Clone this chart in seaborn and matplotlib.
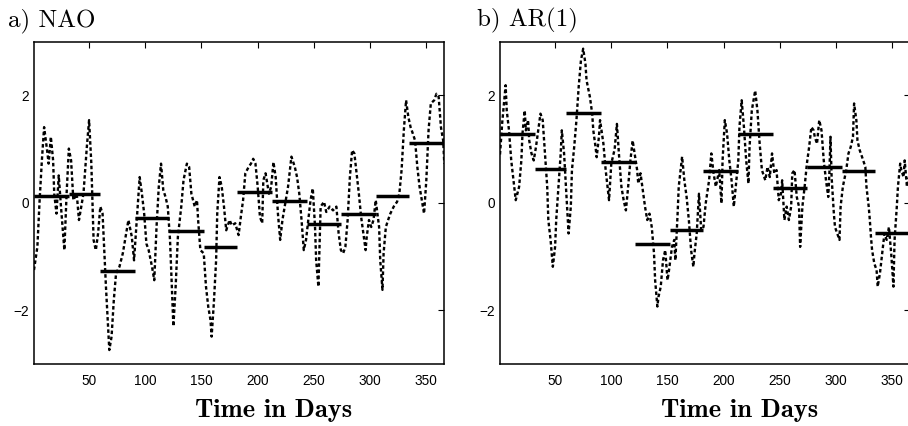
import matplotlib
matplotlib.use("Agg")
import matplotlib.pyplot as plt
import numpy as np
import pandas as pd
import seaborn as sns

# ---------------- data ----------------
nao_days = [1, 4, 6, 8, 10, 13, 14, 16, 18, 19, 21, 23, 25, 28, 30, 32, 34, 36, 39, 41,
            43, 45, 48, 50, 52, 54, 56, 58, 60, 62, 65, 68, 70, 72, 74, 77, 80, 83, 85, 88,
            90, 92, 95, 97, 99, 101, 103, 106, 108, 110, 112, 114, 116, 118, 120, 122, 125,
            127, 129, 132, 134, 137, 139, 141, 144, 146, 147, 149, 152, 154, 156, 158, 159,
            161, 163, 164, 166, 168, 170, 172, 175, 177, 180, 183, 185, 187, 189, 192, 194,
            196, 198, 200, 202, 204, 205, 207, 210, 212, 214, 216, 218, 220, 222, 224, 227,
            229, 230, 233, 235, 237, 239, 241, 243, 247, 249, 251, 252, 254, 255, 256, 259,
            261, 264, 267, 270, 272, 274, 276, 278, 280, 282, 284, 286, 288, 290, 292, 294,
            296, 297, 299, 301, 303, 305, 308, 309, 311, 312, 314, 316, 318, 321, 324, 326,
            328, 330, 332, 334, 336, 338, 340, 342, 344, 346, 348, 350, 352, 354, 357, 359,
            361, 363, 365, 366]
nao_vals = [-1.25, -0.82, 0.05, 0.79, 1.41, 0.92, 0.73, 1.23, 0.79, 0.17, -0.20, 0.51, -0.07,
            -0.88, 0.17, 1.01, 0.79, 0.05, 0.17, -0.32, -0.07, 0.17, 1.04, 1.54, 0.73, -0.69,
            -0.88, -0.57, -0.07, -0.20, -1.56, -2.74, -2.49, -1.81, -1.31, -1.19, -0.94, -0.57,
            -0.32, -0.63, -1.07, -0.45, 0.48, 0.17, -0.20, -0.76, -0.88, -1.19, -1.44, -0.45,
            0.30, 0.73, 0.24, 0.11, -0.07, -0.69, -2.30,
            -1.56, -0.63, -0.07, 0.42, 0.73, 0.67, 0.17, -0.07, 0.05, -0.32, -0.88, -0.94,
            -1.56, -1.93, -2.18, -2.49, -1.86, -1.07, -0.20, 0.48, 0.30, -0.07, -0.51, -0.32,
            -0.42, -0.38, -0.60, -0.26, 0.05, 0.55, 0.67, 0.73, 0.82, 0.73, 0.30, -0.26,
            -0.38, 0.42, 0.55, 0.17, 0.30, 0.76, 0.48, -0.20, -0.69, -0.32, -0.07, 0.30,
            0.67, 0.86, 0.67, 0.48, 0.17, -0.32, -0.88, -0.69, 0.05, 0.27, -0.45, -1.07,
            -1.56, -0.82, -0.07, 0.02, -0.17, -0.07, -0.14, -0.07, -0.57, -0.88, -0.94, -0.82,
            -0.32, 0.48, 0.98, 0.92, 0.55, 0.17, -0.26, -0.57, -0.88, -0.63, -0.32, -0.45,
            -0.32, 0.05, -0.45, -1.07, -1.62, -0.94, -0.45, -0.32, -0.20, -0.07, 0.02, 0.17,
            0.61, 1.35, 1.91, 1.60, 1.41, 1.29, 1.16, 0.67, 0.30, 0.05, -0.20, 0.42, 1.35,
            1.85, 1.91, 2.03, 1.97, 1.41, 1.16, 0.73]

ar_days = [1, 3, 6, 7, 9, 11, 13, 15, 18, 20, 21, 23, 24, 26, 27, 29, 31, 33, 35, 37, 39,
           41, 43, 44, 46, 47, 48, 50, 51, 53, 55, 56, 58, 60, 61, 62, 64, 65, 67, 69, 71,
           73, 75, 77, 78, 81, 83, 84, 86, 87, 89, 90, 93, 95, 98, 100, 103, 105, 107, 109,
           111, 113, 115, 117, 119, 123, 124, 126, 128, 130, 132, 134, 136, 138, 139, 141,
           142, 144, 146, 148, 150, 151, 154, 156, 157, 159, 160, 162, 163, 165, 167, 169,
           171, 173, 174, 176, 178, 180, 182, 184, 187, 189, 191, 193, 196, 198, 199, 201,
           203, 205, 207, 209, 211, 213, 214, 216, 218, 220, 222, 223, 225, 228, 230, 232,
           234, 237, 239, 241, 243, 245, 247, 249, 251, 252, 254, 256, 258, 260, 261, 263,
           265, 267, 268, 270, 272, 274, 276, 278, 280, 281, 283, 285, 287, 289, 291, 293,
           294, 295, 296, 298, 299, 301, 303, 304, 306, 309, 311, 313, 315, 316, 318, 319,
           321, 323, 326, 327, 329, 330, 331, 332, 334, 336, 337, 339, 341, 343, 345, 347,
           349, 351, 352, 354, 355, 357, 358, 360, 361, 363, 365, 366]
ar_vals = [0.90, 1.50, 2.19, 1.72, 1.35, 0.79, 0.42, 0.05, 0.30, 0.79, 1.29, 1.72, 1.35,
           1.54, 1.16, 0.92, 0.79, 1.04, 1.35, 1.66, 1.54, 0.92, 0.30, -0.32, -0.69, -0.94,
           -1.19, -0.82, -0.32, 0.30, 0.92, 1.35, 0.92, 0.17, -0.20, -0.57, -0.07, 0.61,
           1.04, 1.54, 2.16, 2.65, 2.87, 2.59, 2.28, 1.97, 1.66, 1.35, 1.04, 0.85, 1.23,
           1.54, 1.10, 0.61, 0.05, 0.73, 1.00, 1.47, 0.85, 0.30, 0.05, -0.14, 0.30, 0.79,
           1.16, 0.61, 0.36, 0.55, 0.24, -0.07, -0.32, -0.20, -0.45, -0.94, -1.44, -1.93,
           -1.75, -1.56, -1.07, -0.88, -1.44, -1.31, -0.82, -0.69, -1.07, -0.20, 0.30,
           0.67, 0.86, 0.42, 0.11, -0.32, -0.88, -1.19, -0.94, -0.57, 0.17, -0.51, -0.45,
           -0.01, 0.42, 0.92, 0.55, 0.30, 0.61, -0.01, 0.79, 1.54, 1.29, 0.79, 0.42, -0.07,
           0.36, 0.79, 1.41, 1.91, 1.41, 0.79, 0.36, 1.04, 1.72, 2.09, 1.72, 1.10, 0.61,
           0.42, 0.67, 0.48, 0.92, 0.55, 0.61, 0.05, 0.17, 0.42, -0.32, -0.07, -0.32, -0.07,
           0.55, 0.61, 0.11, -0.07, -0.82, -0.07, 0.30, 0.73, 1.04, 1.41, 1.35, 1.23, 1.10,
           1.54, 1.35, 0.79, 0.42, 0.11, 0.55, 1.23, 0.48, -0.20, -0.45, -0.57, -0.69,
           -0.07, 0.30, 0.61, 0.92, 1.04, 1.23, 1.85, 1.54, 1.16, 0.98, 0.86, 0.67, 0.30,
           -0.07, -0.32, -0.63, -0.88, -1.13, -1.25, -1.56, -1.31, -0.94, -0.57, -0.69,
           -0.45, -0.94, -1.56, -0.69, -0.07, 0.30, 0.73, 0.61, 0.48, 0.79, 0.30, 0.50, 0.70]

month_start = [1, 32, 60, 91, 121, 152, 182, 213, 244, 274, 305, 335]
month_end = [32, 60, 91, 121, 152, 182, 213, 244, 274, 305, 335, 366]
nao_means = [0.13, 0.16, -1.26, -0.29, -0.52, -0.82, 0.21, 0.04, -0.40, -0.20, 0.12, 1.12]
ar_means = [1.28, 0.63, 1.67, 0.76, -0.76, -0.50, 0.59, 1.29, 0.27, 0.66, 0.59, -0.57]

xtick_vals = [50, 100, 150, 200, 250, 300, 350]
ytick_vals = [-2, 0, 2]
panel_titles = ["a) NAO", "b) AR(1)"]
x_label = "Time in Days"

# ---------------- style ----------------
sns.set_theme(style="white")
plt.rcParams["font.family"] = ["Liberation Sans", "DejaVu Sans"]
plt.rcParams["axes.edgecolor"] = "black"
plt.rcParams["axes.linewidth"] = 1.1

W, H = 908, 426
fig = plt.figure(figsize=(W / 100, H / 100), dpi=100)
ax_w, ax_h = 410.3, 322.3
ax1 = fig.add_axes([34 / W, 62 / H, ax_w / W, ax_h / H])
ax2 = fig.add_axes([500 / W, 62 / H, ax_w / W, ax_h / H])

title_x = [-25.7 / ax_w, -22.7 / ax_w]

for i, (ax, days, vals, means) in enumerate(
        [(ax1, nao_days, nao_vals, nao_means), (ax2, ar_days, ar_vals, ar_means)]):
    df = pd.DataFrame({"day": days, "value": vals})
    sns.lineplot(data=df, x="day", y="value", ax=ax, color="black", lw=1.7,
                 estimator=None, sort=True)
    ax.lines[-1].set_dashes((1.5, 1.1))

    rows = []
    for m, (s, e, mv) in enumerate(zip(month_start, month_end, means)):
        rows.append({"month": m, "day": s, "mean": mv})
        rows.append({"month": m, "day": e, "mean": mv})
    dfm = pd.DataFrame(rows)
    sns.lineplot(data=dfm, x="day", y="mean", units="month", estimator=None, ax=ax,
                 color="black", lw=2.5, solid_capstyle="butt")

    ax.set_xlim(1, 366)
    ax.set_ylim(-3, 3)
    ax.set_xticks(xtick_vals)
    ax.set_yticks(ytick_vals)
    ax.tick_params(axis="both", which="both", direction="in", top=True, right=True,
                   length=4, width=0.8, color="black", labelsize=9.8, labelcolor="black")
    ax.tick_params(axis="x", pad=7.5)
    ax.tick_params(axis="y", pad=3.6)
    for sp in ax.spines.values():
        sp.set_visible(True)
        sp.set_color("black")
        sp.set_linewidth(1.1)
    ax.set_ylabel("")
    ax.set_xlabel(x_label, fontfamily="cmb10", fontsize=19, color="black")
    ax.xaxis.set_label_coords(0.583, -53 / ax_h)
    ax.xaxis.label.set_va("baseline")
    ax.text(title_x[i], (364 - 26) / ax_h, panel_titles[i], transform=ax.transAxes,
            fontfamily="cmr10", fontsize=18, color="black", ha="left", va="baseline")

fig.savefig("out.png", dpi=100)
